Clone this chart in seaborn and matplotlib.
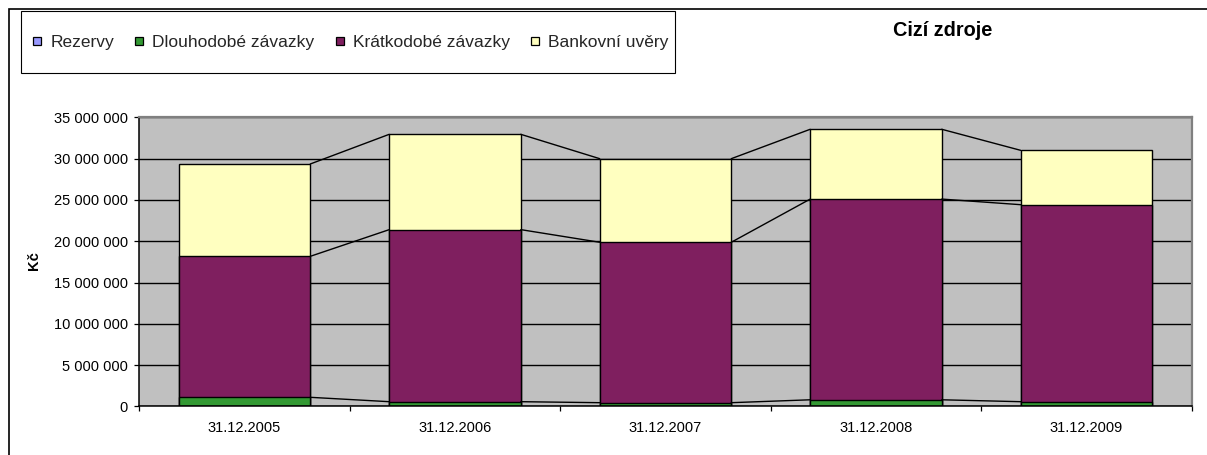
import matplotlib
matplotlib.use("Agg")
import matplotlib.pyplot as plt
import seaborn as sns
import pandas as pd
from matplotlib.lines import Line2D
from matplotlib.patches import Rectangle
from matplotlib.ticker import FuncFormatter, FixedLocator

# ---- data ----
dates = ["31.12.2005", "31.12.2006", "31.12.2007", "31.12.2008", "31.12.2009"]
rezervy = [0, 0, 0, 0, 0]
dlouhodobe = [1_100_000, 570_000, 450_000, 800_000, 570_000]
kratkodobe = [17_070_000, 20_830_000, 19_420_000, 24_300_000, 23_850_000]
bankovni = [11_180_000, 11_540_000, 10_120_000, 8_450_000, 6_580_000]
series_names = ["Rezervy", "Dlouhodobé závazky", "Krátkodobé závazky", "Bankovní uvěry"]
series_colors = ["#9999FF", "#339933", "#7F1F5F", "#FFFFC0"]
y_ticks = [0, 5_000_000, 10_000_000, 15_000_000, 20_000_000, 25_000_000, 30_000_000, 35_000_000]
title = "Cizí zdroje"
y_label = "Kč"

# ---- table with cumulative stack levels ----
df = pd.DataFrame({"date": dates, "Rezervy": rezervy, "Dlouhodobé závazky": dlouhodobe,
                   "Krátkodobé závazky": kratkodobe, "Bankovní uvěry": bankovni})
running = None
for name in series_names:
    running = df[name] if running is None else running + df[name]
    df["cum_" + name] = running

sns.set_theme(style="white")
plt.rcParams['font.family'] = ['Liberation Sans', 'DejaVu Sans']

W, H = 1207, 455
fig = plt.figure(figsize=(W / 100, H / 100), dpi=100)
ax = fig.add_axes([139.3 / W, 48.6 / H, 1052.4 / W, 289.1 / H])
ax.set_facecolor("#C0C0C0")

bar_w = 0.625
for name, col in zip(reversed(series_names), reversed(series_colors)):
    sns.barplot(data=df, x="date", y="cum_" + name, color=col, saturation=1,
                width=bar_w, edgecolor="black", linewidth=1.0, errorbar=None, ax=ax)

# series lines connecting stack levels
n = len(dates)
for name in series_names[1:]:
    lvl = df["cum_" + name].tolist()
    for i in range(n - 1):
        ax.plot([i + bar_w / 2, i + 1 - bar_w / 2], [lvl[i], lvl[i + 1]],
                color="black", lw=1.0, zorder=3)

ax.set_xlim(-0.5, n - 0.5)
ax.set_ylim(y_ticks[0], y_ticks[-1])
ax.set_yticks(y_ticks)
ax.yaxis.set_major_formatter(FuncFormatter(lambda v, p: f"{v:,.0f}".replace(",", " ")))
ax.yaxis.grid(True, color="black", lw=1.0)
ax.xaxis.grid(False)
ax.set_axisbelow(True)

ax.set_xticks(range(n))
ax.set_xticklabels(dates)
ax.xaxis.set_minor_locator(FixedLocator([i - 0.5 for i in range(n + 1)]))
ax.tick_params(axis="x", which="major", length=0, pad=10.8, labelsize=10.5, colors="black")
ax.tick_params(axis="x", which="minor", bottom=True, length=3.6, width=0.9, color="black", direction="out")
ax.tick_params(axis="y", which="major", left=True, length=3.6, width=0.9, pad=4.5,
               labelsize=10.5, color="black", labelcolor="black", direction="out")
ax.set_xlabel("")
ax.set_ylabel("")

for s in ["left", "bottom"]:
    ax.spines[s].set_color("black")
    ax.spines[s].set_linewidth(1.1)
for s in ["top", "right"]:
    ax.spines[s].set_color("#808080")
    ax.spines[s].set_linewidth(1.6)
    ax.spines[s].set_visible(True)

# y label
fig.text(34.3 / W, 1 - 261 / H, y_label, rotation=90, ha="center", va="center",
         fontsize=10.5, fontweight="bold", color="black")

# title
fig.text(943 / W, 1 - 30.7 / H, title, ha="center", va="center",
         fontsize=14.3, fontweight="bold", color="black")

# outer chart frame
fig.add_artist(Rectangle((9 / W, -0.5), 2.0, 0.5 + 1 - 8.7 / H, transform=fig.transFigure,
                         fill=False, edgecolor="black", lw=1.2))

# legend box
fig.add_artist(Rectangle((21.3 / W, 1 - 73.3 / H), (675 - 21.3) / W, (73.3 - 11) / H,
                         transform=fig.transFigure, fill=False, edgecolor="black", lw=0.8))
handles = [Line2D([], [], marker="s", linestyle="none", markersize=6.3, markerfacecolor=c,
                  markeredgecolor="black", markeredgewidth=0.9) for c in series_colors]
fig.legend(handles, series_names, loc="center left", bbox_to_anchor=(33.0 / W, 1 - 42.7 / H),
           ncol=4, frameon=False, borderpad=0, borderaxespad=0, handlelength=0.5,
           handletextpad=0.5, columnspacing=1.2, fontsize=12.5)

fig.savefig("out.png", dpi=100)
